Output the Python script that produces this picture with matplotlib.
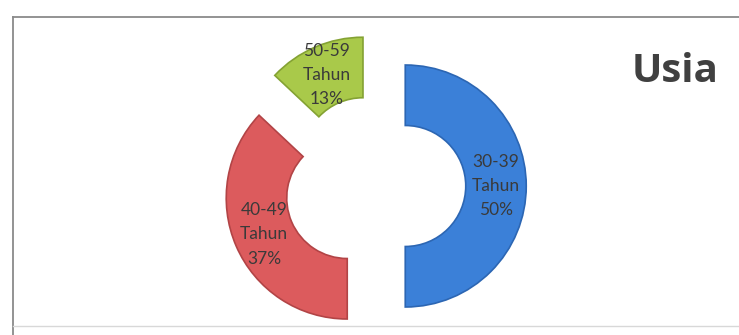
import matplotlib
matplotlib.use("Agg")
import matplotlib.pyplot as plt
from matplotlib.lines import Line2D

# Age groups of respondents
categories = ["30-39\nTahun", "40-49\nTahun", "50-59\nTahun"]
values = [50, 37, 13]
colors = ["#3b80d8", "#dc5b5d", "#a9c94a"]
edge_colors = ["#2c66b3", "#b24446", "#84a233"]
title = "Usia"

W, H = 739, 335
fig = plt.figure(figsize=(W / 100, H / 100), dpi=100)
ax = fig.add_axes([0, 0, 1, 1])

# pixel scale: outer radius of the ring in pixels and the pie centre
R_px = 121.0
cx, cy = 375.0, 186.0

labels = [f"{c}\n{v}%" for c, v in zip(categories, values)]
wedges, texts = ax.pie(
    values,
    labels=labels,
    colors=colors,
    startangle=90,
    counterclock=False,
    explode=[0.25, 0.25, 0.25],
    radius=1.0,
    labeldistance=0.75,
    wedgeprops=dict(width=0.5, linewidth=1.2),
    textprops=dict(fontsize=12.5, color="#3a3a3a", family="Lato", linespacing=1.65),
)
for w, ec in zip(wedges, edge_colors):
    w.set_edgecolor(ec)
for t in texts:
    t.set_ha("center")
    t.set_va("center")

ax.set_xlim(-cx / R_px, (W - cx) / R_px)
ax.set_ylim(-(H - cy) / R_px, cy / R_px)
ax.set_aspect("equal", adjustable="datalim")
ax.axis("off")

# chart frame: top and left rules, faint bottom rule
fig.lines.append(Line2D([13 / W, 1], [1 - 17 / H, 1 - 17 / H], transform=fig.transFigure,
                        color="#8a8a8a", linewidth=1.3))
fig.lines.append(Line2D([13 / W, 13 / W], [0, 1 - 17 / H], transform=fig.transFigure,
                        color="#8a8a8a", linewidth=1.3))
fig.lines.append(Line2D([13 / W, 1], [1 - 326 / H, 1 - 326 / H], transform=fig.transFigure,
                        color="#d8d8d8", linewidth=1.0))

fig.text(675 / W, 1 - 72 / H, title, fontsize=29, fontweight="bold",
         family="Open Sans", color="#404040", ha="center", va="center")

fig.savefig("out.png", dpi=100)
